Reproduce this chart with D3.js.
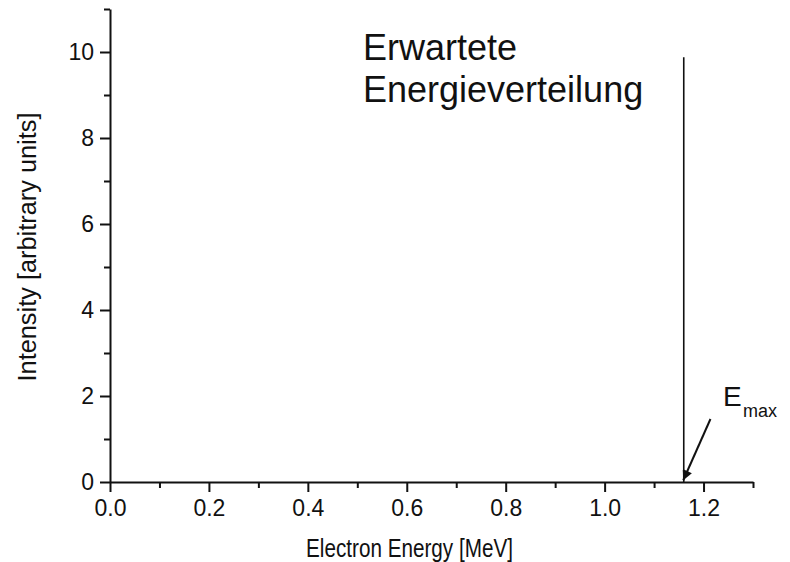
<!DOCTYPE html>
<html>
<head>
<meta charset="utf-8">
<script src="https://cdn.jsdelivr.net/npm/d3@7"></script>
<style>
  html, body { margin: 0; padding: 0; background: #fff; }
  svg { display: block; }
  text { font-family: "Liberation Sans", Arial, Helvetica, sans-serif; fill: #111; }
</style>
</head>
<body>
<svg id="chart" width="790" height="562"></svg>
<script>
// ---- data ----
const xMajorTicks = [0.0, 0.2, 0.4, 0.6, 0.8, 1.0, 1.2];
const xMinorTicks = [0.1, 0.3, 0.5, 0.7, 0.9, 1.1, 1.3];
const yMajorTicks = [0, 2, 4, 6, 8, 10];
const yMinorTicks = [1, 3, 5, 7, 9, 11];
const xDomain = [0, 1.3];
const yDomain = [0, 11];
// expected energy distribution: a single line at E_max
const spectrumE = [1.16, 1.16];
const spectrumI = [0, 9.88];
// arrow pointing at E_max (from, to)
const arrowE = [1.214, 1.159];
const arrowI = [1.465, 0.04];
const xTitle = "Electron Energy [MeV]";
const yTitle = "Intensity [arbitrary units]";
const annotationLines = ["Erwartete", "Energieverteilung"];
const emaxMain = "E";
const emaxSub = "max";

// ---- layout ----
const svg = d3.select("#chart");
const x = d3.scaleLinear().domain(xDomain).range([110, 753]);
const y = d3.scaleLinear().domain(yDomain).range([482, 9]);

const fmtX = d3.format(".1f");
const fmtY = d3.format("d");

// x axis
const xAxis = svg.append("g").attr("transform", `translate(0,${y(0)})`);
xAxis.call(d3.axisBottom(x).tickValues(xMajorTicks).tickFormat(fmtX).tickSize(10).tickPadding(8).tickSizeOuter(0));
xAxis.append("g").call(d3.axisBottom(x).tickValues(xMinorTicks).tickFormat("").tickSize(6).tickSizeOuter(0))
  .select(".domain").remove();
// y axis
const yAxis = svg.append("g").attr("transform", `translate(${x(0)},0)`);
yAxis.call(d3.axisLeft(y).tickValues(yMajorTicks).tickFormat(fmtY).tickSize(10).tickPadding(6).tickSizeOuter(0));
yAxis.append("g").call(d3.axisLeft(y).tickValues(yMinorTicks).tickFormat("").tickSize(6).tickSizeOuter(0))
  .select(".domain").remove();

svg.selectAll(".domain").attr("stroke", "#111").attr("stroke-width", 2);
svg.selectAll(".tick line").attr("stroke", "#111").attr("stroke-width", 2);
svg.selectAll(".tick text").attr("font-size", 23).attr("fill", "#111")
  .style("font-family", '"Liberation Sans", Arial, sans-serif');
xAxis.selectAll(".tick text").attr("dy", "0.71em");

// axis titles
svg.append("text")
  .attr("x", 306).attr("y", 557)
  .attr("font-size", 25)
  .attr("textLength", 207).attr("lengthAdjust", "spacingAndGlyphs")
  .text(xTitle);
svg.append("text")
  .attr("transform", `translate(36,${247}) rotate(-90)`)
  .attr("text-anchor", "middle")
  .attr("font-size", 25)
  .attr("textLength", 269).attr("lengthAdjust", "spacingAndGlyphs")
  .text(yTitle);

// spectrum line
const line = d3.line().x(d => x(d[0])).y(d => y(d[1]));
svg.append("path")
  .datum(spectrumE.map((e, i) => [e, spectrumI[i]]))
  .attr("d", line)
  .attr("fill", "none").attr("stroke", "#111").attr("stroke-width", 1.6);

// arrow
svg.append("defs").append("marker")
  .attr("id", "ah").attr("viewBox", "0 0 10 10")
  .attr("refX", 10).attr("refY", 5)
  .attr("markerWidth", 7).attr("markerHeight", 5)
  .attr("markerUnits", "strokeWidth")
  .attr("orient", "auto")
  .append("path").attr("d", "M0,0 L10,5 L0,10 Z").attr("fill", "#111");
svg.append("path")
  .datum(arrowE.map((e, i) => [e, arrowI[i]]))
  .attr("d", line)
  .attr("fill", "none").attr("stroke", "#111").attr("stroke-width", 2)
  .attr("marker-end", "url(#ah)");

// annotation
const ann = svg.append("text").attr("font-size", 36);
annotationLines.forEach((t, i) => {
  ann.append("tspan").attr("x", 363).attr("y", 60 + i * 42).text(t);
});
const em = svg.append("text").attr("x", 723).attr("y", 406).attr("font-size", 28);
em.append("tspan").text(emaxMain);
em.append("tspan").attr("font-size", 18).attr("x", 743).attr("y", 417).text(emaxSub);
</script>
</body>
</html>
